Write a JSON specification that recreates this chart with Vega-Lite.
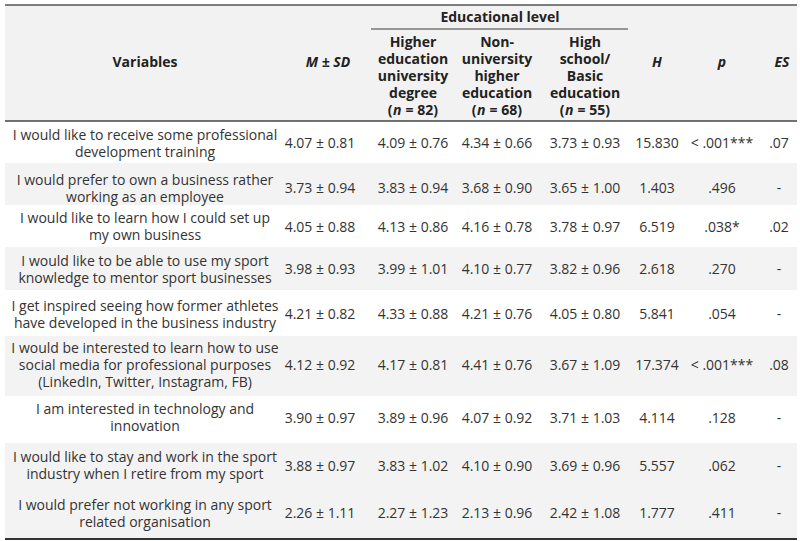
{
  "$schema": "https://vega.github.io/schema/vega-lite/v6.json",
  "width": 800,
  "height": 541,
  "padding": 0,
  "autosize": {"type": "fit", "contains": "padding"},
  "background": "#ffffff",
  "config": {
    "view": {"stroke": null},
    "text": {"font": "Open Sans", "fontSize": 14, "color": "#333333", "baseline": "middle", "align": "center"}
  },
  "data": {
    "values": [
      {"row": 1, "Variables": "I would like to receive some professional\ndevelopment training", "MSD": "4.07 ± 0.81", "Higher": "4.09 ± 0.76", "NonUni": "4.34 ± 0.66", "HighSchool": "3.73 ± 0.93", "H": "15.830", "p": "< .001***", "ES": ".07"},
      {"row": 2, "Variables": "I would prefer to own a business rather\nworking as an employee", "MSD": "3.73 ± 0.94", "Higher": "3.83 ± 0.94", "NonUni": "3.68 ± 0.90", "HighSchool": "3.65 ± 1.00", "H": "1.403", "p": ".496", "ES": "-"},
      {"row": 3, "Variables": "I would like to learn how I could set up\nmy own business", "MSD": "4.05 ± 0.88", "Higher": "4.13 ± 0.86", "NonUni": "4.16 ± 0.78", "HighSchool": "3.78 ± 0.97", "H": "6.519", "p": ".038*", "ES": ".02"},
      {"row": 4, "Variables": "I would like to be able to use my sport\nknowledge to mentor sport businesses", "MSD": "3.98 ± 0.93", "Higher": "3.99 ± 1.01", "NonUni": "4.10 ± 0.77", "HighSchool": "3.82 ± 0.96", "H": "2.618", "p": ".270", "ES": "-"},
      {"row": 5, "Variables": "I get inspired seeing how former athletes\nhave developed in the business industry", "MSD": "4.21 ± 0.82", "Higher": "4.33 ± 0.88", "NonUni": "4.21 ± 0.76", "HighSchool": "4.05 ± 0.80", "H": "5.841", "p": ".054", "ES": "-"},
      {"row": 6, "Variables": "I would be interested to learn how to use\nsocial media for professional purposes\n(LinkedIn, Twitter, Instagram, FB)", "MSD": "4.12 ± 0.92", "Higher": "4.17 ± 0.81", "NonUni": "4.41 ± 0.76", "HighSchool": "3.67 ± 1.09", "H": "17.374", "p": "< .001***", "ES": ".08"},
      {"row": 7, "Variables": "I am interested in technology and\ninnovation", "MSD": "3.90 ± 0.97", "Higher": "3.89 ± 0.96", "NonUni": "4.07 ± 0.92", "HighSchool": "3.71 ± 1.03", "H": "4.114", "p": ".128", "ES": "-"},
      {"row": 8, "Variables": "I would like to stay and work in the sport\nindustry when I retire from my sport", "MSD": "3.88 ± 0.97", "Higher": "3.83 ± 1.02", "NonUni": "4.10 ± 0.90", "HighSchool": "3.69 ± 0.96", "H": "5.557", "p": ".062", "ES": "-"},
      {"row": 9, "Variables": "I would prefer not working in any sport\nrelated organisation", "MSD": "2.26 ± 1.11", "Higher": "2.27 ± 1.23", "NonUni": "2.13 ± 0.96", "HighSchool": "2.42 ± 1.08", "H": "1.777", "p": ".411", "ES": "-"}
    ]
  },
  "layer": [
    {
      "data": {"values": [{}]},
      "mark": {"type": "rect", "fill": "#f2f2f2"},
      "encoding": {
        "x": {"datum": -0.5, "type": "quantitative", "axis": null, "scale": {"domain": [-0.5,0,0.5,1,1.5,2,2.5,3,3.5,4,4.5,5,5.5,6,6.5,7,7.5], "range": [5,145,285,320,371,413,455,497,541,585,628,657,686,722,758,779,797], "zero": false, "nice": false}},
        "x2": {"datum": 7.5},
        "y": {"datum": -0.5, "type": "quantitative", "axis": null, "scale": {"domain": [-0.5,-0.25,0,0.5,1,1.5,2,2.5,3,3.5,4,4.5,5,5.5,6,6.5,7,7.5,8,8.5,9,9.5], "range": [5,29,63,121,144,163,189,205,227.5,247,270,290,315,336,366,396,418.5,443,466.5,488,514,539], "zero": false, "nice": false}},
        "y2": {"datum": 0.5}
      }
    },
    {
      "data": {"values": [{}]},
      "mark": {"type": "rect", "fill": "#f3f3f3"},
      "encoding": {"x": {"datum": -0.5, "type": "quantitative"}, "x2": {"datum": 7.5}, "y": {"datum": 1.5, "type": "quantitative"}, "y2": {"datum": 2.5}}
    },
    {
      "data": {"values": [{}]},
      "mark": {"type": "rect", "fill": "#f3f3f3"},
      "encoding": {"x": {"datum": -0.5, "type": "quantitative"}, "x2": {"datum": 7.5}, "y": {"datum": 3.5, "type": "quantitative"}, "y2": {"datum": 4.5}}
    },
    {
      "data": {"values": [{}]},
      "mark": {"type": "rect", "fill": "#f3f3f3"},
      "encoding": {"x": {"datum": -0.5, "type": "quantitative"}, "x2": {"datum": 7.5}, "y": {"datum": 5.5, "type": "quantitative"}, "y2": {"datum": 6.5}}
    },
    {
      "data": {"values": [{}]},
      "mark": {"type": "rect", "fill": "#f3f3f3"},
      "encoding": {"x": {"datum": -0.5, "type": "quantitative"}, "x2": {"datum": 7.5}, "y": {"datum": 7.5, "type": "quantitative"}, "y2": {"datum": 9.5}}
    },
    {
      "data": {"values": [{}]},
      "mark": {"type": "rule", "stroke": "#555555", "strokeWidth": 1.5},
      "encoding": {"x": {"datum": -0.5, "type": "quantitative"}, "x2": {"datum": 7.5}, "y": {"datum": -0.5, "type": "quantitative"}}
    },
    {
      "data": {"values": [{}]},
      "mark": {"type": "rule", "stroke": "#444444", "strokeWidth": 1.5},
      "encoding": {"x": {"datum": -0.5, "type": "quantitative"}, "x2": {"datum": 7.5}, "y": {"datum": 0.5, "type": "quantitative"}}
    },
    {
      "data": {"values": [{}]},
      "mark": {"type": "rule", "stroke": "#333333", "strokeWidth": 2},
      "encoding": {"x": {"datum": -0.5, "type": "quantitative"}, "x2": {"datum": 7.5}, "y": {"datum": 9.5, "type": "quantitative"}}
    },
    {
      "data": {"values": [{}]},
      "mark": {"type": "rule", "stroke": "#777777", "strokeWidth": 1.5},
      "encoding": {"x": {"datum": 1.5, "type": "quantitative"}, "x2": {"datum": 4.5}, "y": {"datum": -0.25, "type": "quantitative"}}
    },
    {
      "data": {"values": [{}]},
      "mark": {"type": "text", "text": "Variables", "fontWeight": "bold", "color": "#222222"},
      "encoding": {"x": {"datum": 0, "type": "quantitative"}, "y": {"datum": 0, "type": "quantitative"}}
    },
    {
      "data": {"values": [{}]},
      "mark": {"type": "text", "text": "M ± SD", "fontWeight": "bold", "fontStyle": "italic", "color": "#222222", "dx": 8},
      "encoding": {"x": {"datum": 1, "type": "quantitative"}, "y": {"datum": 0, "type": "quantitative"}}
    },
    {
      "data": {"values": [{}]},
      "mark": {"type": "text", "text": "Educational level", "fontWeight": "bold", "color": "#222222", "dx": 3, "dy": 13},
      "encoding": {"x": {"datum": 3, "type": "quantitative"}, "y": {"datum": -0.5, "type": "quantitative"}}
    },
    {
      "data": {"values": [{}]},
      "mark": {"type": "text", "text": ["Higher", "education", "university", "degree"], "fontWeight": "bold", "color": "#222222", "lineHeight": 17, "dy": -20},
      "encoding": {"x": {"datum": 2, "type": "quantitative"}, "y": {"datum": 0, "type": "quantitative"}}
    },
    {
      "data": {"values": [{}]},
      "mark": {"type": "text", "text": ["Non-", "university", "higher", "education"], "fontWeight": "bold", "color": "#222222", "lineHeight": 17, "dy": -20},
      "encoding": {"x": {"datum": 3, "type": "quantitative"}, "y": {"datum": 0, "type": "quantitative"}}
    },
    {
      "data": {"values": [{}]},
      "mark": {"type": "text", "text": ["High", "school/", "Basic", "education"], "fontWeight": "bold", "color": "#222222", "lineHeight": 17, "dy": -20},
      "encoding": {"x": {"datum": 4, "type": "quantitative"}, "y": {"datum": 0, "type": "quantitative"}}
    },
    {
      "data": {"values": [{}]},
      "mark": {"type": "text", "text": "(", "fontWeight": "bold", "color": "#222222", "align": "right", "dx": -20.5, "dy": 48},
      "encoding": {"x": {"datum": 2, "type": "quantitative"}, "y": {"datum": 0, "type": "quantitative"}}
    },
    {
      "data": {"values": [{}]},
      "mark": {"type": "text", "text": "n", "fontWeight": "bold", "fontStyle": "italic", "color": "#222222", "align": "left", "dx": -20, "dy": 48},
      "encoding": {"x": {"datum": 2, "type": "quantitative"}, "y": {"datum": 0, "type": "quantitative"}}
    },
    {
      "data": {"values": [{}]},
      "mark": {"type": "text", "text": "= 82)", "fontWeight": "bold", "color": "#222222", "align": "left", "dx": -7.4, "dy": 48},
      "encoding": {"x": {"datum": 2, "type": "quantitative"}, "y": {"datum": 0, "type": "quantitative"}}
    },
    {
      "data": {"values": [{}]},
      "mark": {"type": "text", "text": "(", "fontWeight": "bold", "color": "#222222", "align": "right", "dx": -20.5, "dy": 48},
      "encoding": {"x": {"datum": 3, "type": "quantitative"}, "y": {"datum": 0, "type": "quantitative"}}
    },
    {
      "data": {"values": [{}]},
      "mark": {"type": "text", "text": "n", "fontWeight": "bold", "fontStyle": "italic", "color": "#222222", "align": "left", "dx": -20, "dy": 48},
      "encoding": {"x": {"datum": 3, "type": "quantitative"}, "y": {"datum": 0, "type": "quantitative"}}
    },
    {
      "data": {"values": [{}]},
      "mark": {"type": "text", "text": "= 68)", "fontWeight": "bold", "color": "#222222", "align": "left", "dx": -7.4, "dy": 48},
      "encoding": {"x": {"datum": 3, "type": "quantitative"}, "y": {"datum": 0, "type": "quantitative"}}
    },
    {
      "data": {"values": [{}]},
      "mark": {"type": "text", "text": "(", "fontWeight": "bold", "color": "#222222", "align": "right", "dx": -20.5, "dy": 48},
      "encoding": {"x": {"datum": 4, "type": "quantitative"}, "y": {"datum": 0, "type": "quantitative"}}
    },
    {
      "data": {"values": [{}]},
      "mark": {"type": "text", "text": "n", "fontWeight": "bold", "fontStyle": "italic", "color": "#222222", "align": "left", "dx": -20, "dy": 48},
      "encoding": {"x": {"datum": 4, "type": "quantitative"}, "y": {"datum": 0, "type": "quantitative"}}
    },
    {
      "data": {"values": [{}]},
      "mark": {"type": "text", "text": "= 55)", "fontWeight": "bold", "color": "#222222", "align": "left", "dx": -7.4, "dy": 48},
      "encoding": {"x": {"datum": 4, "type": "quantitative"}, "y": {"datum": 0, "type": "quantitative"}}
    },
    {
      "data": {"values": [{}]},
      "mark": {"type": "text", "text": "H", "fontWeight": "bold", "fontStyle": "italic", "color": "#222222"},
      "encoding": {"x": {"datum": 5, "type": "quantitative"}, "y": {"datum": 0, "type": "quantitative"}}
    },
    {
      "data": {"values": [{}]},
      "mark": {"type": "text", "text": "p", "fontWeight": "bold", "fontStyle": "italic", "color": "#222222"},
      "encoding": {"x": {"datum": 6, "type": "quantitative"}, "y": {"datum": 0, "type": "quantitative"}}
    },
    {
      "data": {"values": [{}]},
      "mark": {"type": "text", "text": "ES", "fontWeight": "bold", "fontStyle": "italic", "color": "#222222", "dx": 3},
      "encoding": {"x": {"datum": 7, "type": "quantitative"}, "y": {"datum": 0, "type": "quantitative"}}
    },
    {
      "transform": [{"filter": "datum.row != 6"}],
      "mark": {"type": "text", "lineBreak": "\n", "lineHeight": 17, "dy": -8.5},
      "encoding": {"x": {"datum": 0, "type": "quantitative"}, "y": {"field": "row", "type": "quantitative"}, "text": {"field": "Variables", "type": "nominal"}}
    },
    {
      "transform": [{"filter": "datum.row == 6"}],
      "mark": {"type": "text", "lineBreak": "\n", "lineHeight": 17, "dy": -17},
      "encoding": {"x": {"datum": 0, "type": "quantitative"}, "y": {"field": "row", "type": "quantitative"}, "text": {"field": "Variables", "type": "nominal"}}
    },
    {
      "mark": {"type": "text"},
      "encoding": {"x": {"datum": 1, "type": "quantitative"}, "y": {"field": "row", "type": "quantitative"}, "text": {"field": "MSD", "type": "nominal"}}
    },
    {
      "mark": {"type": "text"},
      "encoding": {"x": {"datum": 2, "type": "quantitative"}, "y": {"field": "row", "type": "quantitative"}, "text": {"field": "Higher", "type": "nominal"}}
    },
    {
      "mark": {"type": "text"},
      "encoding": {"x": {"datum": 3, "type": "quantitative"}, "y": {"field": "row", "type": "quantitative"}, "text": {"field": "NonUni", "type": "nominal"}}
    },
    {
      "mark": {"type": "text"},
      "encoding": {"x": {"datum": 4, "type": "quantitative"}, "y": {"field": "row", "type": "quantitative"}, "text": {"field": "HighSchool", "type": "nominal"}}
    },
    {
      "mark": {"type": "text"},
      "encoding": {"x": {"datum": 5, "type": "quantitative"}, "y": {"field": "row", "type": "quantitative"}, "text": {"field": "H", "type": "nominal"}}
    },
    {
      "mark": {"type": "text"},
      "encoding": {"x": {"datum": 6, "type": "quantitative"}, "y": {"field": "row", "type": "quantitative"}, "text": {"field": "p", "type": "nominal"}}
    },
    {
      "mark": {"type": "text"},
      "encoding": {"x": {"datum": 7, "type": "quantitative"}, "y": {"field": "row", "type": "quantitative"}, "text": {"field": "ES", "type": "nominal"}}
    }
  ]
}
